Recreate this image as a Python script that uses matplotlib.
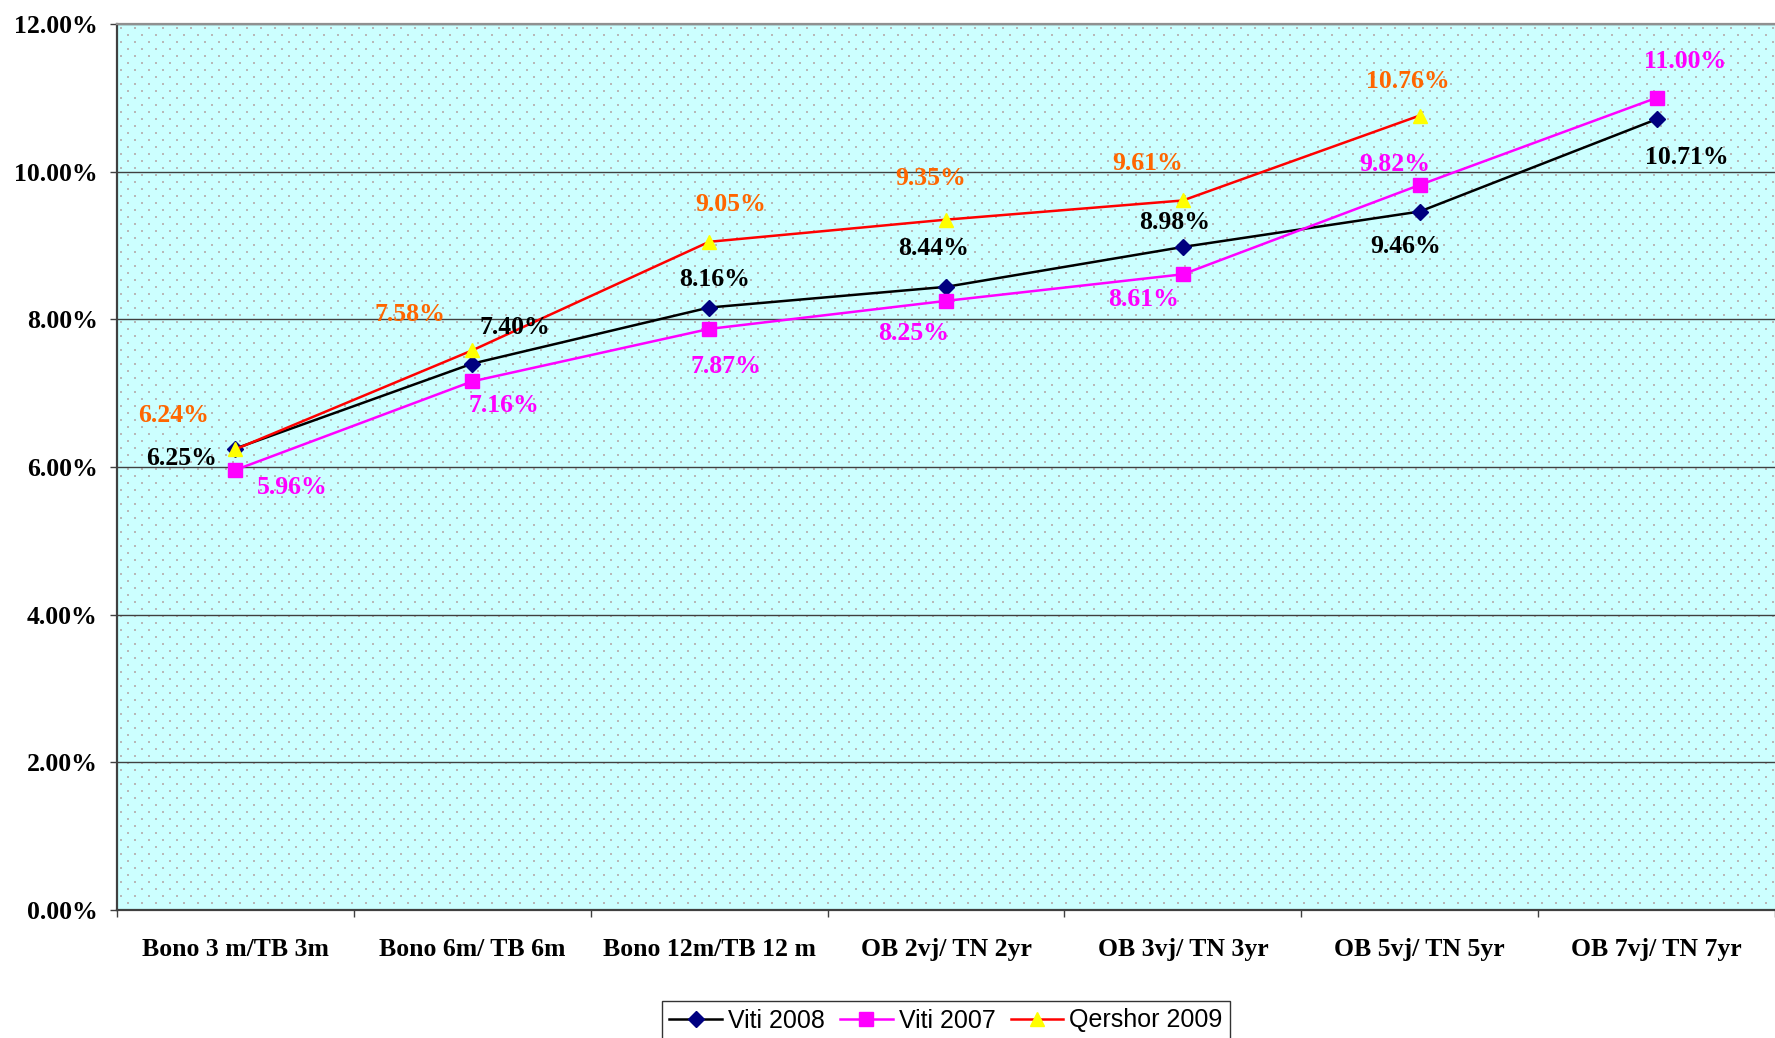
import matplotlib
matplotlib.use('Agg')
import numpy as np
import matplotlib.pyplot as plt
from matplotlib.ticker import FixedLocator, FuncFormatter

# Chart data
categories = ['Bono 3 m/TB 3m', 'Bono 6m/ TB 6m', 'Bono 12m/TB 12 m', 'OB 2vj/ TN 2yr',
              'OB 3vj/ TN 3yr', 'OB 5vj/ TN 5yr', 'OB 7vj/ TN 7yr']
viti_2008 = [6.25, 7.40, 8.16, 8.44, 8.98, 9.46, 10.71]
viti_2007 = [5.96, 7.16, 7.87, 8.25, 8.61, 9.82, 11.00]
qershor_2009 = [6.24, 7.58, 9.05, 9.35, 9.61, 10.76]

# label offsets in pixels (dx, dy) relative to each point
off_2008 = [(-54, -10), (43, 36), (5, 28), (-12, 38), (-8, 24), (-14, -35), (30, -38)]
off_2007 = [(57, -18), (32, -24), (17, -38), (-32, -33), (-39, -25), (-25, 20), (29, 36)]
off_2009 = [(-62, 34), (-62, 36), (21, 37), (-15, 41), (-35, 37), (-12, 34)]

serif = 'Liberation Serif'
fs = 18.5

W, H = 1775, 1038
L, R, T, B = 117, 1775, 24, 910
fig = plt.figure(figsize=(W / 100, H / 100), dpi=100)
ax = fig.add_axes([L / W, 1 - B / H, (R - L) / W, (B - T) / H])

# background: light cyan with staggered dot pattern
ax.set_facecolor('#CCFFFF')
pw, ph = R - L, B - T
dots_x, dots_y = [], []
for k, yy in enumerate(np.arange(4, ph, 7)):
    xs = np.arange(4 + (7 if k % 2 else 0), pw, 14)
    dots_x.extend(xs / pw)
    dots_y.extend([1 - yy / ph] * len(xs))
ax.scatter(dots_x, dots_y, s=1.6, marker='s', color='#B8B8B8', linewidths=0,
           transform=ax.transAxes, zorder=0.5)

x = list(range(len(categories)))
ax.plot(x, viti_2008, color='black', lw=1.8, marker='D', ms=8.5,
        mfc='#000080', mec='#000080', label='Viti 2008', zorder=3)
ax.plot(x, viti_2007, color='#FF00FF', lw=1.8, marker='s', ms=10.5,
        mfc='#FF00FF', mec='#FF00FF', label='Viti 2007', zorder=3)
ax.plot(x[:len(qershor_2009)], qershor_2009, color='#FF0000', lw=1.8, marker='^', ms=10.5,
        mfc='#FFFF00', mec='#FFFF00', label='Qershor 2009', zorder=4)

def add_labels(vals, offs, color):
    for i, (v, o) in enumerate(zip(vals, offs)):
        ax.annotate('{:.2f}%'.format(v), (i, v), xytext=o, textcoords='offset pixels',
                    ha='center', va='center', color=color, fontsize=fs,
                    fontweight='bold', family=serif, zorder=5)

add_labels(viti_2008, off_2008, 'black')
add_labels(viti_2007, off_2007, '#FF00FF')
add_labels(qershor_2009, off_2009, '#FF6600')

ax.set_xlim(-0.5, len(categories) - 0.5)
ax.set_ylim(0, 12)
ax.set_yticks([0, 2, 4, 6, 8, 10, 12])
ax.yaxis.set_major_formatter(FuncFormatter(lambda v, p: '{:.2f}%'.format(v)))
ax.grid(axis='y', color='#404040', lw=1.0, zorder=1)
ax.set_axisbelow(True)

ax.set_xticks(x)
ax.set_xticklabels(categories)
ax.xaxis.set_minor_locator(FixedLocator([i - 0.5 for i in range(len(categories) + 1)]))
ax.tick_params(axis='x', which='major', length=0, pad=20)
ax.tick_params(axis='x', which='minor', length=5, width=1, color='#404040', direction='out')
ax.tick_params(axis='y', length=5, width=1, color='#404040', pad=9)
for lab in ax.get_xticklabels() + ax.get_yticklabels():
    lab.set_fontfamily(serif)
    lab.set_fontweight('bold')
    lab.set_fontsize(fs)

ax.spines['left'].set_color('#404040')
ax.spines['left'].set_linewidth(1.6)
ax.spines['bottom'].set_color('#404040')
ax.spines['bottom'].set_linewidth(1.6)
ax.spines['top'].set_color('#909090')
ax.spines['top'].set_linewidth(1.6)
ax.spines['right'].set_visible(False)

leg = fig.legend(loc='upper center', bbox_to_anchor=(946 / W, 1 - 1001 / H), ncol=3,
                 frameon=True, fancybox=False, borderaxespad=0, handlelength=2.1,
                 handletextpad=0.25, columnspacing=0.6, borderpad=0.3,
                 prop={'family': 'Liberation Sans', 'size': 18})
leg.get_frame().set_edgecolor('black')
leg.get_frame().set_linewidth(1.0)

fig.savefig('out.png', dpi=100)
